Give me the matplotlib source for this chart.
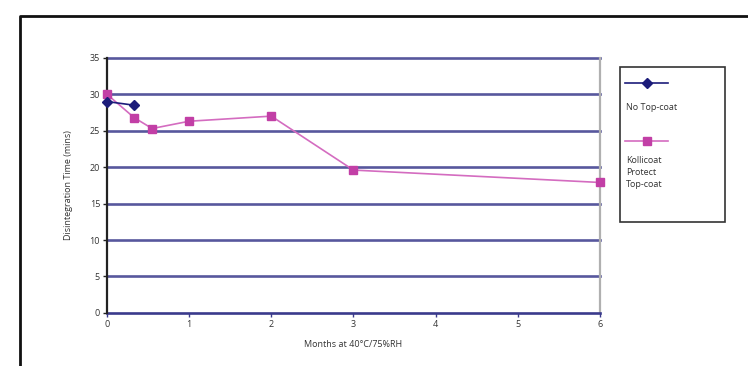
import matplotlib.pyplot as plt
from matplotlib.lines import Line2D
from matplotlib.patches import Rectangle

# data
months_no_top = [0, 0.33]
dt_no_top = [29.0, 28.5]
months_kollicoat = [0, 0.33, 0.55, 1, 2, 3, 6]
dt_kollicoat = [30.0, 26.8, 25.3, 26.3, 27.0, 19.6, 17.9]
series_labels = ["No Top-coat", "Kollicoat\nProtect\nTop-coat"]
y_ticks = [0, 5, 10, 15, 20, 25, 30, 35]
x_ticks = [0, 1, 2, 3, 4, 5, 6]

navy = "#1c1c7a"
grid_col = "#3a3a8c"
pink = "#c23fa6"
pink_line = "#d46cc0"

plt.rcParams["font.family"] = ["Open Sans", "DejaVu Sans"]

fig = plt.figure(figsize=(7.48, 3.66), dpi=100)
ax = fig.add_axes([0.143, 0.145, 0.659, 0.697])

ax.plot(months_no_top, dt_no_top, color=navy, lw=1.2, marker="D",
        ms=5.5, mfc=navy, mec=navy, zorder=5, clip_on=False)
ax.plot(months_kollicoat, dt_kollicoat, color=pink_line, lw=1.2, marker="s",
        ms=5.5, mfc=pink, mec=pink, zorder=4, clip_on=False)

ax.set_xlim(0, 6)
ax.set_ylim(0, 35)
ax.set_xticks(x_ticks)
ax.set_yticks(y_ticks)
for y in y_ticks[1:]:
    ax.axhline(y, color=grid_col, lw=1.9, alpha=0.85, zorder=1, clip_on=False)

ax.tick_params(axis="both", labelsize=6.5, length=3, width=1.0,
               direction="out", pad=2, labelcolor="#333333")
ax.tick_params(axis="x", color=grid_col)
ax.tick_params(axis="y", color="#222222")

ax.spines["top"].set_visible(False)
ax.spines["left"].set_color("#222222")
ax.spines["left"].set_linewidth(1.6)
ax.spines["left"].set_zorder(3)
ax.spines["bottom"].set_color(grid_col)
ax.spines["bottom"].set_linewidth(1.9)
ax.spines["right"].set_color("#b0b0b0")
ax.spines["right"].set_linewidth(1.6)

ax.set_ylabel("Disintegration Time (mins)", fontsize=6.5, color="#333333",
              labelpad=12)
ax.set_xlabel("Months at 40°C/75%RH", fontsize=6.5, color="#333333",
              labelpad=8)

# outer chart frame (only top and left edges visible in the crop)
fig.add_artist(Line2D([0.027, 0.027, 1.0], [0.0, 0.956, 0.956],
                      transform=fig.transFigure, color="#111111", lw=2.0))

# legend drawn Excel style: marker line above each label
fig.add_artist(Rectangle((0.829, 0.393), 0.140, 0.424, transform=fig.transFigure,
                         fill=False, ec="#333333", lw=1.2))
fig.add_artist(Line2D([0.836, 0.893], [0.773, 0.773], transform=fig.transFigure,
                      color=navy, lw=1.2))
fig.add_artist(Line2D([0.8645], [0.773], transform=fig.transFigure, color=navy,
                      marker="D", ms=5.5, mfc=navy, mec=navy))
fig.text(0.837, 0.705, series_labels[0], fontsize=6.5, color="#333333",
         va="center", ha="left")
fig.add_artist(Line2D([0.836, 0.893], [0.615, 0.615], transform=fig.transFigure,
                      color=pink_line, lw=1.2))
fig.add_artist(Line2D([0.8645], [0.615], transform=fig.transFigure, color=pink,
                      marker="s", ms=5.5, mfc=pink, mec=pink))
fig.text(0.837, 0.575, series_labels[1], fontsize=6.5, color="#333333",
         va="top", ha="left", linespacing=1.45)

fig.savefig("out.png", dpi=100)
